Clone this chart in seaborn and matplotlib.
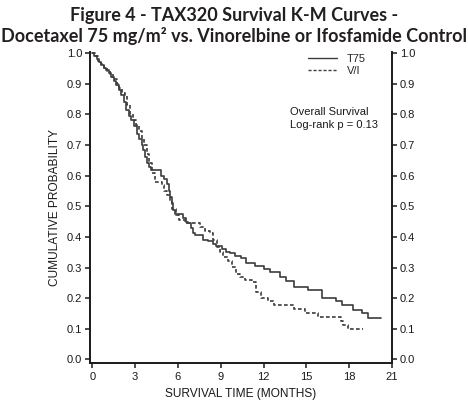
import matplotlib
matplotlib.use("Agg")
import matplotlib.pyplot as plt
from matplotlib.lines import Line2D
import seaborn as sns
import pandas as pd

# ---- data ----
t75_time = [0, 0.15, 0.3, 0.45, 0.63, 0.8, 0.98, 1.15, 1.33, 1.5, 1.68, 1.85, 2.03, 2.2,
            2.38, 2.55, 2.73, 2.95, 3.11, 3.3, 3.45, 3.57, 3.7, 3.81, 4.0, 4.1, 4.8, 5.0,
            5.21, 5.35, 5.45, 5.57, 5.68, 5.8, 6.38, 6.55, 6.73, 6.9, 7.08, 7.2, 7.78, 8.1,
            8.48, 8.7, 9.1, 9.4, 9.65, 10.0, 10.4, 10.8, 11.4, 12.0, 12.45, 13.15, 13.6,
            14.1, 15.1, 16.1, 17.1, 17.5, 18.3, 18.9, 19.35, 20.2]
t75_surv = [1.0, 0.99, 0.98, 0.97, 0.96, 0.95, 0.944, 0.933, 0.922, 0.91, 0.895, 0.88, 0.862,
            0.84, 0.813, 0.795, 0.78, 0.76, 0.737, 0.72, 0.70, 0.683, 0.66, 0.64, 0.628, 0.618,
            0.60, 0.59, 0.574, 0.55, 0.53, 0.51, 0.487, 0.476, 0.46, 0.45, 0.444, 0.43, 0.411,
            0.405, 0.39, 0.385, 0.378, 0.37, 0.36, 0.352, 0.346, 0.338, 0.33, 0.316, 0.305,
            0.295, 0.284, 0.27, 0.255, 0.237, 0.228, 0.199, 0.19, 0.177, 0.161, 0.15, 0.136,
            0.136]

vi_time = [0, 0.2, 0.4, 0.6, 0.85, 1.05, 1.25, 1.45, 1.7, 1.9, 2.1, 2.3, 2.45, 2.65, 2.85,
           3.05, 3.3, 3.5, 3.65, 3.85, 4.0, 4.16, 4.4, 4.85, 5.05, 5.25, 5.45, 5.6, 5.85,
           6.1, 6.5, 7.55, 7.9, 8.25, 8.45, 8.72, 8.95, 9.18, 9.5, 9.77, 10.1, 10.35, 10.7,
           11.2, 11.5, 11.8, 12.3, 12.7, 14.1, 14.9, 15.85, 17.4, 17.6, 17.9, 19.0]
vi_surv = [1.0, 0.99, 0.975, 0.965, 0.95, 0.94, 0.93, 0.915, 0.90, 0.885, 0.87, 0.86, 0.83,
           0.80, 0.78, 0.765, 0.745, 0.72, 0.70, 0.67, 0.64, 0.607, 0.58, 0.57, 0.55, 0.535,
           0.515, 0.49, 0.47, 0.455, 0.444, 0.433, 0.42, 0.411, 0.39, 0.367, 0.35, 0.335,
           0.32, 0.302, 0.28, 0.27, 0.26, 0.253, 0.22, 0.2, 0.19, 0.177, 0.164, 0.153, 0.139,
           0.125, 0.112, 0.101, 0.101]

arm_labels = ["T75", "V/I"]
x_ticks = [0, 3, 6, 9, 12, 15, 18, 21]
y_ticks = [0.0, 0.1, 0.2, 0.3, 0.4, 0.5, 0.6, 0.7, 0.8, 0.9, 1.0]

title_line1 = "Figure 4 - TAX320 Survival K-M Curves -"
title_line2 = "Docetaxel 75 mg/m\u00b2 vs. Vinorelbine or Ifosfamide Control"
x_label = "SURVIVAL TIME (MONTHS)"
y_label = "CUMULATIVE PROBABILITY"
note1 = "Overall Survival"
note2 = "Log-rank p = 0.13"

df = pd.concat([
    pd.DataFrame({"time": t75_time, "surv": t75_surv, "arm": arm_labels[0]}),
    pd.DataFrame({"time": vi_time, "surv": vi_surv, "arm": arm_labels[1]}),
], ignore_index=True)

# ---- figure ----
sns.set_style("white")
plt.rcParams["font.family"] = ["Liberation Sans", "DejaVu Sans"]

W, H = 468, 403
fig = plt.figure(figsize=(W / 100, H / 100), dpi=100)
ax = fig.add_axes([90 / W, (H - 363.3) / H, 302 / W, 311.3 / H])

line_color = "#3c3c3c"
sns.lineplot(data=df, x="time", y="surv", hue="arm", style="arm",
             palette={arm_labels[0]: line_color, arm_labels[1]: line_color},
             dashes={arm_labels[0]: "", arm_labels[1]: (2.2, 1.4)},
             drawstyle="steps-post", estimator=None, sort=False,
             linewidth=1.2, legend=False, ax=ax)

ax.set_xlim(-0.16, 21.0)
ax.set_ylim(-0.0125, 1.003)
ax.set_xticks(x_ticks)
ax.set_xticklabels([str(v) for v in x_ticks])
ax.set_yticks(y_ticks)
ax.set_yticklabels([f"{v:.1f}" for v in y_ticks])

for side in ["left", "right", "bottom"]:
    ax.spines[side].set_visible(True)
    ax.spines[side].set_color("#1a1a1a")
    ax.spines[side].set_linewidth(1.4)
ax.spines["top"].set_visible(False)

ax.tick_params(axis="both", which="major", direction="out", length=3.5, width=1.1,
               color="#1a1a1a", labelsize=8, labelcolor="#1a1a1a", pad=2)
ax.tick_params(axis="y", left=True, right=True, labelleft=True, labelright=True)
ax.tick_params(axis="x", bottom=True, pad=2.5)

ax.set_xlabel(x_label, fontsize=8.6, color="#1a1a1a", va="center")
ax.xaxis.set_label_coords(0.5, (363.3 - 394) / 311.3)
ax.set_ylabel(y_label, fontsize=8.6, color="#1a1a1a", va="center")
ax.yaxis.set_label_coords((55 - 90) / 302, 0.5)

handles = [Line2D([], [], color=line_color, lw=1.0, ls="-"),
           Line2D([], [], color=line_color, lw=1.0, dashes=(2.2, 1.4))]
ax.legend(handles, arm_labels, loc="upper left", bbox_to_anchor=(0.722, 0.995),
          frameon=False, fontsize=8, handlelength=2.6, handletextpad=0.9,
          labelspacing=0.2, borderpad=0, borderaxespad=0)

ax.text(13.85, 0.807, note1, fontsize=8, color="#1a1a1a", va="center", ha="left")
ax.text(13.85, 0.764, note2, fontsize=8, color="#1a1a1a", va="center", ha="left")

# ---- title, fitted to width ----
title_font = ["Lato", "Open Sans", "DejaVu Sans"]
t1 = fig.text(0.5, 1 - 15 / H, title_line1, ha="center", va="center",
              fontsize=13, fontweight="bold", family=title_font, color="#231f20")
t2 = fig.text(0.5, 1 - 36 / H, title_line2, ha="center", va="center",
              fontsize=13, fontweight="bold", family=title_font, color="#231f20")
fig.canvas.draw()
r = fig.canvas.get_renderer()
w2 = t2.get_window_extent(r).width
scale = 464 / w2
t1.set_fontsize(13 * scale)
t2.set_fontsize(13 * scale)

fig.savefig("out.png", dpi=100)
